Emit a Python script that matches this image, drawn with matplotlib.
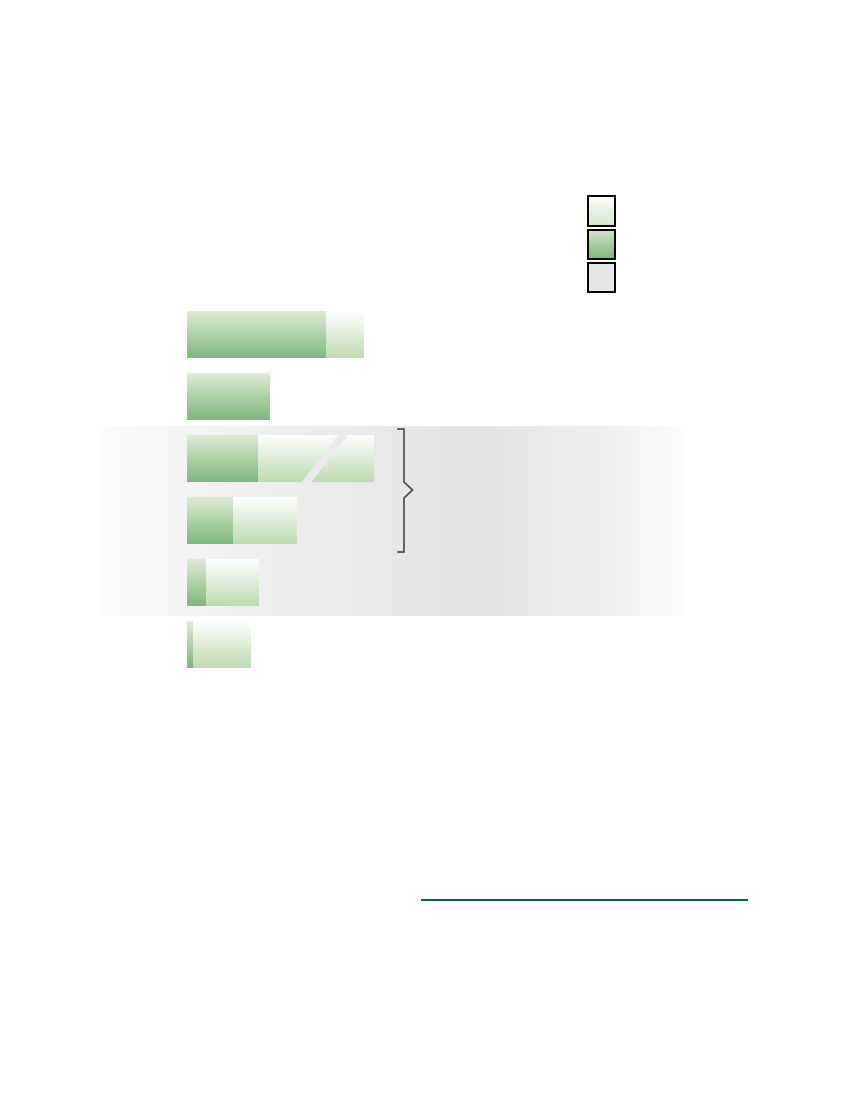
import numpy as np
import matplotlib
matplotlib.use("Agg")
import matplotlib.pyplot as plt
from matplotlib.patches import Polygon, Rectangle
from matplotlib.colors import LinearSegmentedColormap

# ---------------- data (arbitrary units) ----------------
categories = [0, 1, 2, 3, 4, 5]
dark_values = [139, 82, 71, 46, 19, 6]
light_values = [38, 0, 116, 63, 52, 57]
broken_bar = [False, False, True, False, False, False]

# ---------------- styles ----------------
W, H = 846, 1094
DARK_TOP, DARK_BOT = "#deebd6", "#7db97a"
LIGHT_TOP, LIGHT_BOT = "#ffffff", "#bddbb1"
BAND_GRAY = "#ebebeb"

fig = plt.figure(figsize=(W / 100, H / 100), dpi=100)
fig.patch.set_facecolor("white")

# background axes in pixel coordinates for decorations
bg = fig.add_axes([0, 0, 1, 1], zorder=0)
bg.set_xlim(0, W)
bg.set_ylim(H, 0)
bg.axis("off")

# horizontal gray band with gradient
bx = np.linspace(98, 686, 400)
anchors_x = [98, 150, 250, 350, 480, 530, 600, 640, 670, 686]
anchors_v = [253, 247, 240, 234, 227, 232, 238, 245, 250, 254]
vals = np.interp(bx, anchors_x, anchors_v) / 255.0
band = np.dstack([vals, vals, vals])[None, :, :].reshape(1, -1, 3)
bg.imshow(band, extent=(98, 686, 616, 426), origin="upper", aspect="auto",
          interpolation="bilinear", zorder=0)

# bracket
bx0, bx1, tipx = 398, 404, 412.5
bg.plot([bx0, bx1, bx1, tipx, bx1, bx1, bx0],
        [429, 429, 482, 490, 498, 552, 552],
        color="#4a4a4a", lw=1.2, solid_joinstyle="miter", zorder=2)


def grad_img(ax, x0, x1, ytop, ybot, ctop, cbot, clip=None, z=2):
    cmap = LinearSegmentedColormap.from_list("g", [ctop, cbot])
    arr = np.linspace(0, 1, 128)[:, None]
    im = ax.imshow(arr, cmap=cmap, extent=(x0, x1, ybot, ytop), origin="upper",
                   aspect="auto", interpolation="bilinear", zorder=z)
    if clip is not None:
        im.set_clip_path(clip)
    return im


# legend squares
leg_specs = [(196, 225.5, LIGHT_TOP, "#d5e8cb"),
             (229.5, 258.5, "#d6e6cc", "#7fba7b"),
             (263, 291.5, "#e6e7e8", "#e6e7e8")]
for (yt, yb, ct, cb) in leg_specs:
    grad_img(bg, 587.5, 614.5, yt, yb, ct, cb, z=2)
    bg.add_patch(Rectangle((587.5, yt), 27, yb - yt, fill=False,
                           edgecolor="black", lw=1.4, zorder=3))

# green rule
bg.plot([421, 748], [900, 900], color="#006633", lw=1.4, solid_capstyle="butt")

# bars axes: 1 x-unit = 1 px, rows spaced 62 px
left_px, right_px = 187, 760
top_px, row_px = 303.3, 62
ax = fig.add_axes([left_px / W, 1 - (top_px + 6 * row_px) / H,
                   (right_px - left_px) / W, 6 * row_px / H], zorder=1)
ax.patch.set_alpha(0)
ax.axis("off")

bar_h = 0.75
dark_bars = ax.barh(categories, dark_values, height=bar_h, color="none",
                    edgecolor="none")
light_bars = ax.barh(categories, light_values, left=dark_values, height=bar_h,
                     color="none", edgecolor="none")

for i, (bd, bl) in enumerate(zip(dark_bars, light_bars)):
    y0, y1 = i - bar_h / 2, i + bar_h / 2
    d = dark_values[i]
    grad_img(ax, 0, d, y0, y1, DARK_TOP, DARK_BOT, clip=bd)
    if light_values[i] > 0:
        grad_img(ax, d, d + light_values[i], y0, y1, LIGHT_TOP, LIGHT_BOT, clip=bl)
    if broken_bar[i]:
        # diagonal break in the light segment
        gx = d + light_values[i] * 0.37
        pad = 0.02
        ax.add_patch(Polygon([[gx, y1 + pad], [gx + 10, y1 + pad],
                              [gx + 48, y0 - pad], [gx + 38, y0 - pad]],
                             closed=True, facecolor=BAND_GRAY, edgecolor="none",
                             zorder=3))

ax.set_xlim(0, right_px - left_px)
ax.set_ylim(len(categories) - 0.5, -0.5)

fig.savefig("out.png", dpi=100, facecolor="white")
